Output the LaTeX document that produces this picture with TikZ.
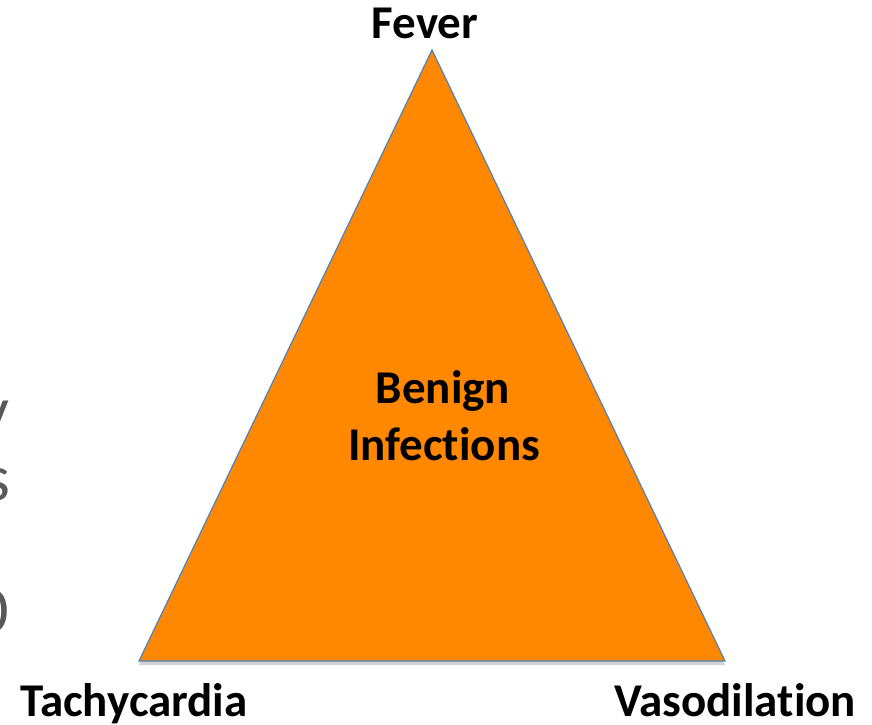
\documentclass[tikz,border=0pt]{standalone}
\usepackage{fontspec}
\setmainfont{Carlito}[Ligatures=NoCommon]
\usetikzlibrary{shadows}
\definecolor{triorange}{HTML}{FF8800}
\definecolor{triedge}{HTML}{4F81BD}
\definecolor{fraggray}{HTML}{595959}
\begin{document}
\begin{tikzpicture}[x=1pt,y=-1pt,
  lbl/.style={font=\fontsize{47}{57}\selectfont\bfseries, text=black, inner sep=0pt, anchor=base},
  frag/.style={font=\fontsize{66}{70}\selectfont, text=fraggray, inner sep=0pt, anchor=base east},
  tri/.style={fill=triorange, draw=triedge, line width=1.2pt, line join=miter,
    drop shadow={shadow xshift=0pt, shadow yshift=-4pt, opacity=0.35, fill=gray}}]
\useasboundingbox (0,0) rectangle (872,724);
\begin{scope}
\clip (0,0) rectangle (872,724);
\node[frag] (f1) at (10,432) {y};
\node[frag] (f2) at (11,500) {s};
\node[frag] (f3) at (9,632) {0};
\end{scope}
\coordinate (top) at (432,50);
\coordinate (bl) at (139,661);
\coordinate (br) at (725,661);
\path[tri] (top) -- (br) -- (bl) -- cycle;
\node[lbl] (fever) at (425,38) {Fever};
\node[lbl] (benign) at (443,403) {Benign};
\node[lbl] (infect) at (444,460) {Infections};
\node[lbl] (tachy) at (134,716) {Tachycardia};
\node[lbl] (vaso) at (735,716) {Vasodilation};
\end{tikzpicture}
\end{document}
